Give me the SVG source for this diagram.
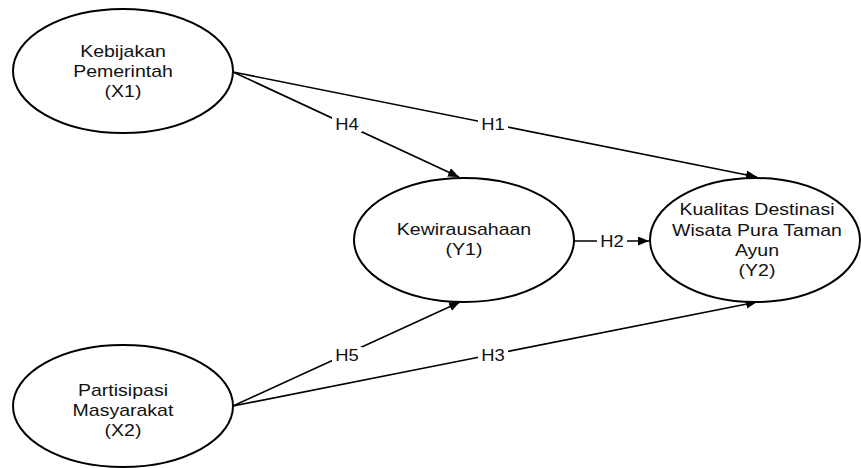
<svg xmlns="http://www.w3.org/2000/svg" width="861" height="468" viewBox="0 0 861 468">
<style>
.node ellipse{fill:#fff;stroke:#000;stroke-width:2}
.node text{font-family:"Liberation Sans",Arial,sans-serif;font-size:16px;fill:#111;text-anchor:middle}
.edge line{stroke:#000;stroke-width:1.6}
.lbl rect{fill:#fff}
.lbl text{font-family:"Liberation Sans",Arial,sans-serif;font-size:16px;fill:#111;text-anchor:middle}
</style>
<defs>
<marker id="arr" markerUnits="userSpaceOnUse" markerWidth="12" markerHeight="10" refX="11" refY="4.5" orient="auto">
<path d="M0,0 L11,4.5 L0,9 z" fill="#000"/>
</marker>
</defs>
<rect width="861" height="468" fill="#fff"/>
<g id="connectors" class="edge">
<line x1="233" y1="72" x2="757" y2="177" marker-end="url(#arr)"/>
<line x1="233" y1="72" x2="459" y2="177" marker-end="url(#arr)"/>
<line x1="573" y1="241" x2="649" y2="241" marker-end="url(#arr)"/>
<line x1="233" y1="406" x2="460" y2="302" marker-end="url(#arr)"/>
<line x1="233" y1="406" x2="757" y2="302" marker-end="url(#arr)"/>
<g class="lbl">
<rect x="478" y="116" width="30" height="16"/><text transform="translate(493,130) scale(1.15,1)">H1</text>
<rect x="332" y="116" width="30" height="16"/><text transform="translate(347,130) scale(1.15,1)">H4</text>
<rect x="597" y="233" width="30" height="16"/><text transform="translate(612,247) scale(1.15,1)">H2</text>
<rect x="332" y="347" width="30" height="16"/><text transform="translate(347,361) scale(1.15,1)">H5</text>
<rect x="478" y="347" width="30" height="16"/><text transform="translate(493,361) scale(1.15,1)">H3</text>
</g>
</g>
<g id="X1" class="node">
<ellipse cx="123" cy="71" rx="110" ry="62"/>
<text transform="translate(123,57) scale(1.22,1)">Kebijakan</text>
<text transform="translate(123,77) scale(1.22,1)">Pemerintah</text>
<text transform="translate(123,97) scale(1.22,1)">(X1)</text>
</g>
<g id="X2" class="node">
<ellipse cx="123" cy="406" rx="110" ry="61"/>
<text transform="translate(123,396) scale(1.22,1)">Partisipasi</text>
<text transform="translate(123,416) scale(1.22,1)">Masyarakat</text>
<text transform="translate(123,436) scale(1.22,1)">(X2)</text>
</g>
<g id="Y1" class="node">
<ellipse cx="464" cy="240" rx="110" ry="62"/>
<text transform="translate(464,235) scale(1.22,1)">Kewirausahaan</text>
<text transform="translate(464,255) scale(1.22,1)">(Y1)</text>
</g>
<g id="Y2" class="node">
<ellipse cx="755" cy="240" rx="105" ry="62"/>
<text transform="translate(757,215) scale(1.22,1)">Kualitas Destinasi</text>
<text transform="translate(757,236) scale(1.22,1)">Wisata Pura Taman</text>
<text transform="translate(757,256) scale(1.22,1)">Ayun</text>
<text transform="translate(757,276) scale(1.22,1)">(Y2)</text>
</g>
</svg>
